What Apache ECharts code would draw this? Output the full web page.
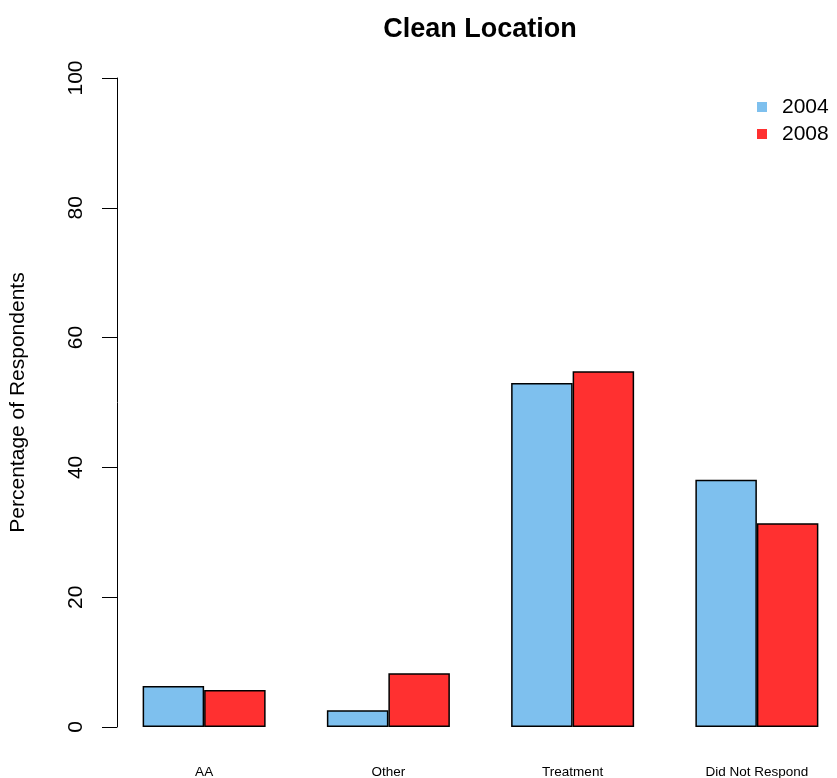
<!DOCTYPE html>
<html>
<head>
<meta charset="utf-8">
<title>Clean Location</title>
<script src="https://cdn.jsdelivr.net/npm/echarts@6/dist/echarts.min.js"></script>
<style>
	html, body { margin: 0; padding: 0; background: #fff; }
	#chart { width: 837px; height: 778px; }
</style>
</head>
<body>
<div id="chart"></div>
<script>
	var categories = ['AA', 'Other', 'Treatment', 'Did Not Respond'];
	var values2004 = [6.3, 2.6, 53.0, 38.1];
	var values2008 = [5.7, 8.3, 54.8, 31.4];
	var yTicks = [0, 20, 40, 60, 80, 100];

	var FONT = 'Liberation Sans, Arial, sans-serif';
	var chart = echarts.init(document.getElementById('chart'));
	var option = {
		animation: false,
		backgroundColor: '#fff',
		title: {
			text: 'Clean Location',
			left: 475,
			top: 11,
			textAlign: 'center',
			textStyle: { fontFamily: FONT, fontSize: 27, fontWeight: 'bold', color: '#000' }
		},
		legend: {
			data: ['2004', '2008'],
			orient: 'vertical',
			left: 752,
			top: 91,
			itemWidth: 10,
			itemHeight: 10,
			itemGap: 5,
			icon: 'rect',
			itemStyle: { borderWidth: 0 },
			textStyle: { fontFamily: FONT, fontSize: 21, color: '#000', lineHeight: 22, padding: [0, 0, 0, 10] }
		},
		grid: { left: 112, width: 737, top: 78, bottom: 51, outerBoundsMode: 'none' },
		xAxis: {
			type: 'category',
			data: categories,
			axisLine: { show: false },
			axisTick: { show: false },
			axisLabel: { margin: 38, fontFamily: FONT, fontSize: 13.5, color: '#000' }
		},
		yAxis: {
			type: 'value',
			min: yTicks[0],
			max: yTicks[yTicks.length - 1],
			interval: 20,
			offset: -5,
			name: 'Percentage of Respondents',
			nameLocation: 'middle',
			nameGap: 88,
			nameTextStyle: { fontFamily: FONT, fontSize: 21, color: '#000' },
			splitLine: { show: false },
			axisLine: { show: true, lineStyle: { color: '#000', width: 1 } },
			axisTick: { show: true, inside: false, length: 15, lineStyle: { color: '#000' } },
			axisLabel: { rotate: 90, margin: 30, fontFamily: FONT, fontSize: 21, color: '#000' }
		},
		series: [
			{
				name: '2004',
				type: 'bar',
				data: values2004,
				barGap: '0%',
				barWidth: 61.5,
				itemStyle: { color: '#7EC0EE', borderColor: '#000', borderWidth: 1.5 }
			},
			{
				name: '2008',
				type: 'bar',
				data: values2008,
				barWidth: 61.5,
				itemStyle: { color: '#FF3030', borderColor: '#000', borderWidth: 1.5 }
			}
		]
	};
	chart.setOption(option);
</script>
</body>
</html>
